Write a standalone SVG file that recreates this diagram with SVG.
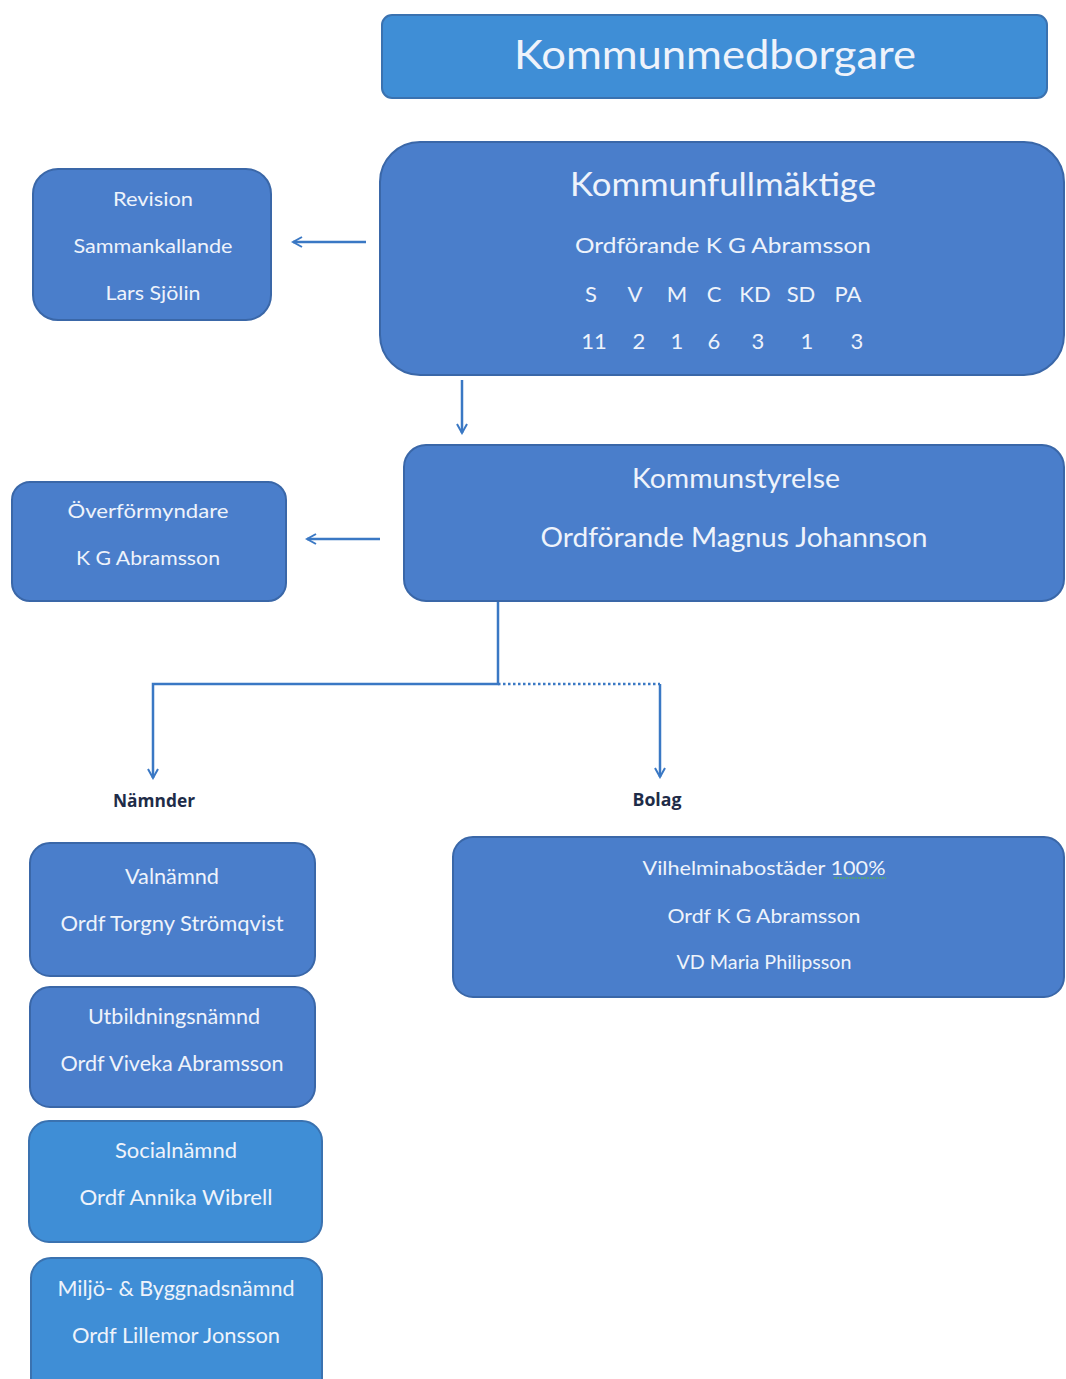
<svg xmlns="http://www.w3.org/2000/svg" width="1066" height="1379" viewBox="0 0 1066 1379">
<style>
.box{fill:#4a7ecb;stroke:#3a67a8;stroke-width:2}
.light{fill:#3f8ed6;stroke:#3a72b0;stroke-width:2}
.t{font-family:Lato,"Open Sans",sans-serif;fill:#eef3fb;text-anchor:middle;dominant-baseline:central}
.lbl{font-family:"Open Sans",Lato,sans-serif;font-weight:bold;fill:#1e2c48;text-anchor:middle;dominant-baseline:central;font-size:17px}
.c{stroke:#3a78c4;stroke-width:2.5;fill:none}
</style>
<defs>
<marker id="ah" viewBox="0 0 12 12" refX="10" refY="6" markerWidth="12" markerHeight="12" markerUnits="userSpaceOnUse" orient="auto">
<path d="M1,1 L10,6 L1,11" fill="none" stroke="#3a78c4" stroke-width="2"/>
</marker>
</defs>
<rect width="1066" height="1379" fill="#ffffff"/>
<g id="connectors">
<line class="c" x1="366" y1="242" x2="293" y2="242" marker-end="url(#ah)"/>
<line class="c" x1="462" y1="380" x2="462" y2="433" marker-end="url(#ah)"/>
<line class="c" x1="380" y1="539" x2="307" y2="539" marker-end="url(#ah)"/>
<polyline class="c" points="498,601 498,684 153,684 153,778" marker-end="url(#ah)"/>
<line class="c" x1="498" y1="684" x2="660" y2="684" stroke-dasharray="2.5,2.5"/>
<line class="c" x1="660" y1="684" x2="660" y2="777" marker-end="url(#ah)"/>
</g>
<g id="kommunmedborgare">
<rect class="light" x="382" y="15" width="665" height="83" rx="10"/>
<text class="t" x="715" y="53" font-size="41" textLength="402" lengthAdjust="spacingAndGlyphs">Kommunmedborgare</text>
</g>
<g id="kommunfullmaktige">
<rect class="box" x="380" y="142" width="684" height="233" rx="40"/>
<text class="t" x="723" y="183" font-size="33" textLength="306" lengthAdjust="spacingAndGlyphs">Kommunfullmäktige</text>
<text class="t" x="723" y="244" font-size="22" textLength="296" lengthAdjust="spacingAndGlyphs">Ordförande K G Abramsson</text>
<g font-size="22">
<text class="t" x="591" y="293">S</text>
<text class="t" x="635" y="293">V</text>
<text class="t" x="677" y="293">M</text>
<text class="t" x="714" y="293">C</text>
<text class="t" x="755" y="293">KD</text>
<text class="t" x="801" y="293">SD</text>
<text class="t" x="848" y="293">PA</text>
<text class="t" x="594" y="340">11</text>
<text class="t" x="639" y="340">2</text>
<text class="t" x="677" y="340">1</text>
<text class="t" x="714" y="340">6</text>
<text class="t" x="758" y="340">3</text>
<text class="t" x="807" y="340">1</text>
<text class="t" x="857" y="340">3</text>
</g>
</g>
<g id="revision">
<rect class="box" x="33" y="169" width="238" height="151" rx="25"/>
<text class="t" x="153" y="198" font-size="20" textLength="80" lengthAdjust="spacingAndGlyphs">Revision</text>
<text class="t" x="153" y="245" font-size="20" textLength="159" lengthAdjust="spacingAndGlyphs">Sammankallande</text>
<text class="t" x="153" y="292" font-size="20" textLength="95" lengthAdjust="spacingAndGlyphs">Lars Sjölin</text>
</g>
<g id="kommunstyrelse">
<rect class="box" x="404" y="445" width="660" height="156" rx="22"/>
<text class="t" x="736" y="478" font-size="26" textLength="208" lengthAdjust="spacingAndGlyphs">Kommunstyrelse</text>
<text class="t" x="734" y="537" font-size="26" textLength="387" lengthAdjust="spacingAndGlyphs">Ordförande  Magnus Johannson</text>
</g>
<g id="overformyndare">
<rect class="box" x="12" y="482" width="274" height="119" rx="18"/>
<text class="t" x="148" y="510" font-size="20" textLength="161" lengthAdjust="spacingAndGlyphs">Överförmyndare</text>
<text class="t" x="148" y="557" font-size="20" textLength="144" lengthAdjust="spacingAndGlyphs">K G Abramsson</text>
</g>
<g id="namnder-label"><text class="lbl" x="154" y="800" textLength="82" lengthAdjust="spacingAndGlyphs">Nämnder</text></g>
<g id="bolag-label"><text class="lbl" x="657" y="799" textLength="49" lengthAdjust="spacingAndGlyphs">Bolag</text></g>
<g id="valnamnd">
<rect class="box" x="30" y="843" width="285" height="133" rx="20"/>
<text class="t" x="172" y="875" font-size="21" textLength="94" lengthAdjust="spacingAndGlyphs">Valnämnd</text>
<text class="t" x="172" y="922" font-size="21" textLength="223" lengthAdjust="spacingAndGlyphs">Ordf Torgny Strömqvist</text>
</g>
<g id="utbildningsnamnd">
<rect class="box" x="30" y="987" width="285" height="120" rx="20"/>
<text class="t" x="174" y="1015" font-size="21" textLength="172" lengthAdjust="spacingAndGlyphs">Utbildningsnämnd</text>
<text class="t" x="172" y="1062" font-size="21" textLength="223" lengthAdjust="spacingAndGlyphs">Ordf Viveka Abramsson</text>
</g>
<g id="socialnamnd">
<rect class="light" x="29" y="1121" width="293" height="121" rx="20"/>
<text class="t" x="176" y="1149" font-size="21" textLength="122" lengthAdjust="spacingAndGlyphs">Socialnämnd</text>
<text class="t" x="176" y="1196" font-size="21" textLength="193" lengthAdjust="spacingAndGlyphs">Ordf Annika Wibrell</text>
</g>
<g id="miljonamnd">
<rect class="light" x="31" y="1258" width="291" height="140" rx="20"/>
<text class="t" x="176" y="1287" font-size="21" textLength="237" lengthAdjust="spacingAndGlyphs">Miljö- &amp; Byggnadsnämnd</text>
<text class="t" x="176" y="1334" font-size="21" textLength="208" lengthAdjust="spacingAndGlyphs">Ordf Lillemor Jonsson</text>
</g>
<g id="vilhelminabostader">
<rect class="box" x="453" y="837" width="611" height="160" rx="20"/>
<text class="t" x="764" y="867" font-size="20" textLength="243" lengthAdjust="spacingAndGlyphs">Vilhelminabostäder 100%</text>
<line x1="834" y1="878" x2="886" y2="878" stroke="#5aa86a" stroke-width="1.5" stroke-dasharray="2,1"/>
<text class="t" x="764" y="915" font-size="20" textLength="193" lengthAdjust="spacingAndGlyphs">Ordf K G Abramsson</text>
<text class="t" x="764" y="961" font-size="20" textLength="175" lengthAdjust="spacingAndGlyphs">VD Maria Philipsson</text>
</g>
</svg>
